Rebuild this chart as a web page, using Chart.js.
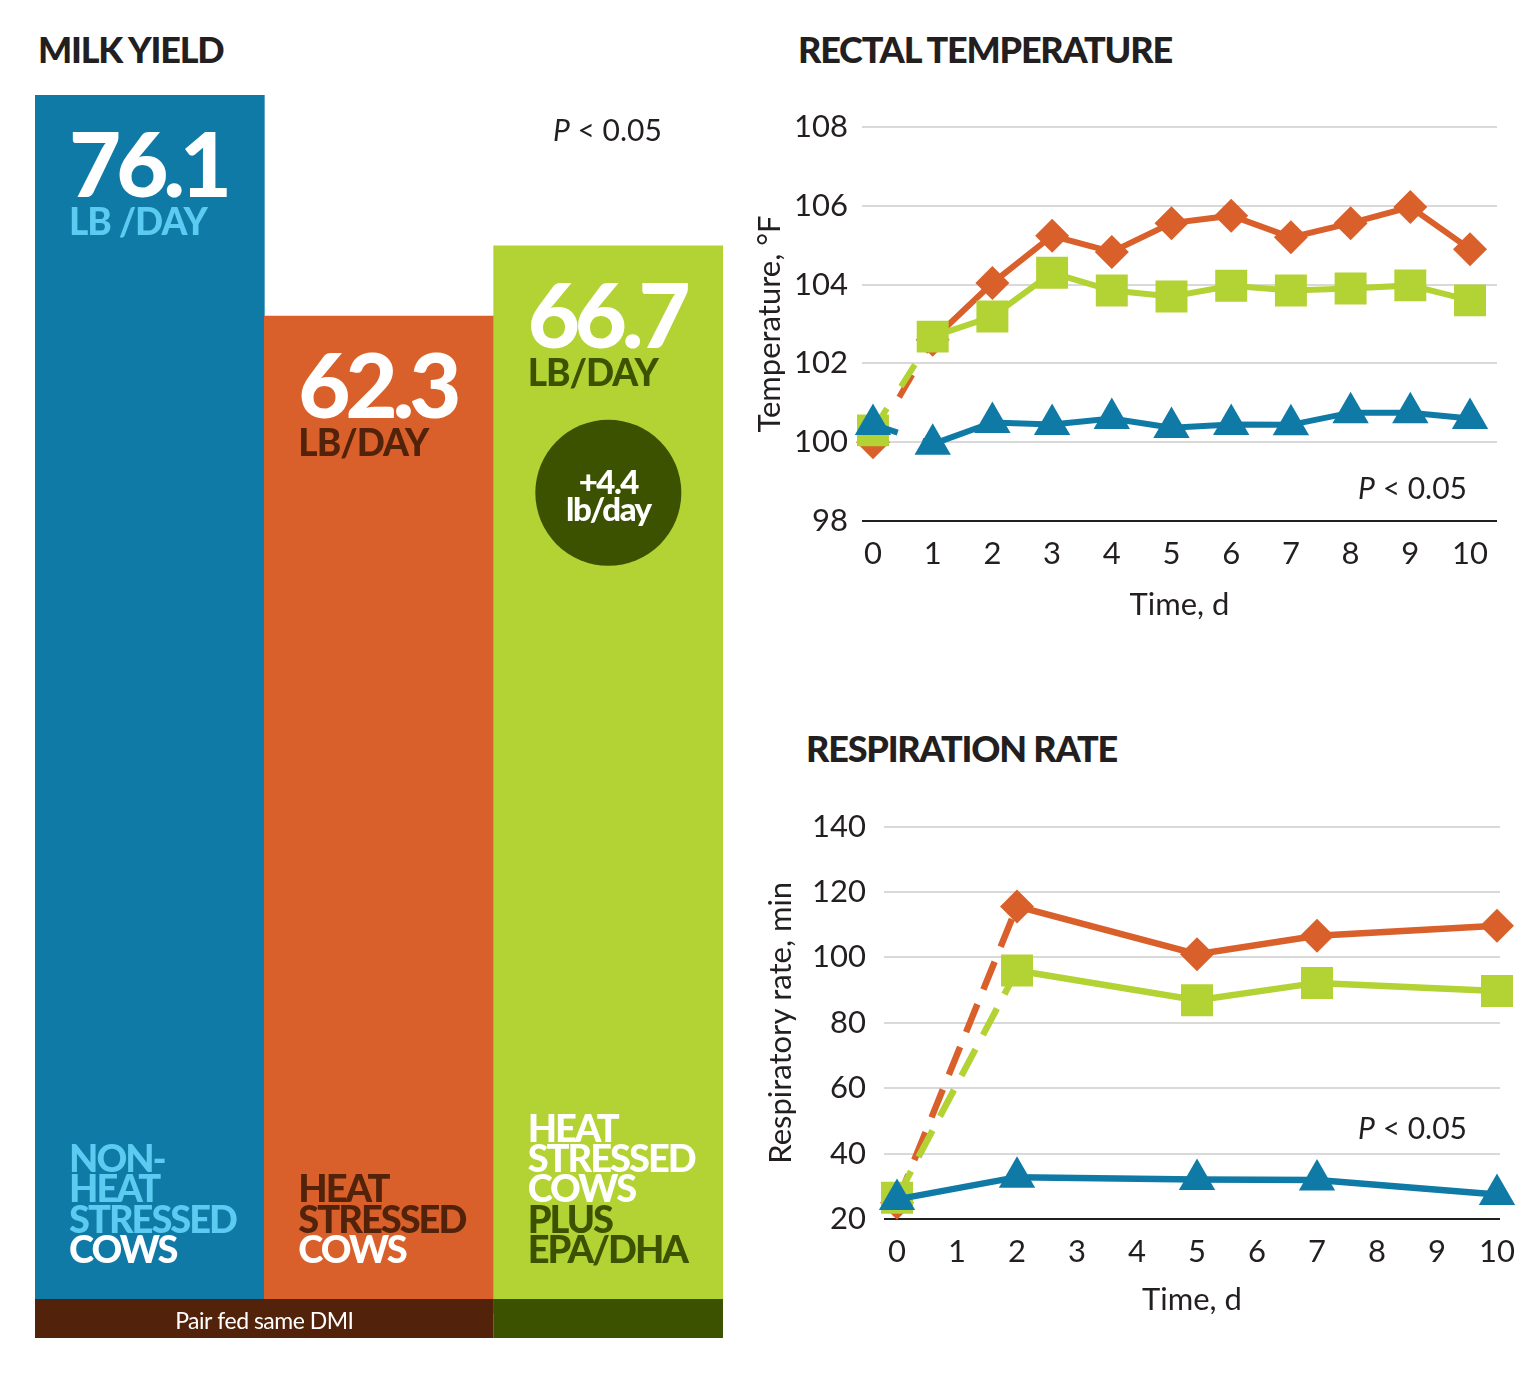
<!DOCTYPE html>
<html lang="en">
<head>
<meta charset="UTF-8">
<title>Milk yield, rectal temperature and respiration rate</title>
<script src="https://cdn.jsdelivr.net/npm/chart.js@4.4.0/dist/chart.umd.min.js"></script>
<style>
  body { margin: 0; background: #fff; font-family: Lato, sans-serif; }
  .page { position: relative; width: 1536px; height: 1375px; overflow: hidden; }
  .title { position: absolute; font-weight: 900; font-size: 36px; letter-spacing: -1.2px; color: #231f20; line-height: 1; white-space: nowrap; }
  canvas { position: absolute; }
</style>
</head>
<body>
<div class="page">
  <div class="title" style="left:38px; top:31px">MILK YIELD</div>
  <div class="title" style="left:798px; top:31px">RECTAL TEMPERATURE</div>
  <div class="title" style="left:806px; top:730px">RESPIRATION RATE</div>
  <canvas id="milkChart" width="688" height="1375" style="left:35px; top:0; width:688px; height:1375px"></canvas>
  <canvas id="tempChart" width="796" height="540" style="left:740px; top:90px; width:796px; height:540px"></canvas>
  <canvas id="respChart" width="796" height="540" style="left:740px; top:790px; width:796px; height:540px"></canvas>
</div>

<script>
// milk yield, lb/day
const groups = ['Non-heat stressed cows', 'Heat stressed cows', 'Heat stressed cows plus EPA/DHA'];
const milkYield = [76.1, 62.3, 66.7];
const groupLines = [
  ['NON-', 'HEAT', 'STRESSED', 'COWS'],
  ['HEAT', 'STRESSED', 'COWS'],
  ['HEAT', 'STRESSED', 'COWS', 'PLUS', 'EPA/DHA']
];

// rectal temperature, °F
const tempDays = [0, 1, 2, 3, 4, 5, 6, 7, 8, 9, 10];
const tempNonHeat = [100.45, 99.95, 100.5, 100.45, 100.6, 100.37, 100.45, 100.44, 100.75, 100.75, 100.6];
const tempHeat = [100.0, 102.6, 104.04, 105.24, 104.83, 105.56, 105.75, 105.2, 105.56, 105.97, 104.9];
const tempHeatEpa = [100.3, 102.68, 103.19, 104.3, 103.85, 103.7, 103.97, 103.85, 103.9, 103.98, 103.6];
const tempTicks = [98, 100, 102, 104, 106, 108];

// respiration rate, breaths/min
const respDays = [0, 2, 5, 7, 10];
const respNonHeat = [26, 32.8, 32.1, 31.9, 27.5];
const respHeat = [25, 115.6, 101, 106.6, 109.7];
const respHeatEpa = [26.5, 96, 86.9, 92.2, 89.7];
const respTicks = [20, 40, 60, 80, 100, 120, 140];

const dayTicks = [0, 1, 2, 3, 4, 5, 6, 7, 8, 9, 10];

const ink = '#231f20';
const blue = '#107aa6', orange = '#d9602a', green = '#b3d234';
const lightBlue = '#5ccbf1', brown = '#52230a', olive = '#3d5200';

function drawPNote(ctx, x, y, alignRight) {
  ctx.save();
  ctx.fillStyle = ink;
  ctx.textBaseline = 'alphabetic';
  ctx.textAlign = 'left';
  ctx.font = 'italic 30px Lato';
  const wP = ctx.measureText('P').width;
  ctx.font = '30px Lato';
  const rest = ' < 0.05';
  const wR = ctx.measureText(rest).width;
  const x0 = alignRight ? x - wP - wR : x;
  ctx.font = 'italic 30px Lato';
  ctx.fillText('P', x0, y);
  ctx.font = '30px Lato';
  ctx.fillText(rest, x0 + wP, y);
  ctx.restore();
}

function txt(ctx, s, x, y, font, color, spacing) {
  ctx.font = font;
  ctx.fillStyle = color;
  ctx.letterSpacing = spacing || '0px';
  ctx.fillText(s, x, y);
}

// labels, footer strip and difference badge for the milk bars
const milkLabels = {
  id: 'milkLabels',
  afterDatasetsDraw(chart) {
    const ctx = chart.ctx;
    const bars = chart.getDatasetMeta(0).data;
    const base = chart.scales.y.getPixelForValue(0);
    const left = bars.map(b => b.x - b.width / 2);
    const right = bars.map(b => b.x + b.width / 2);
    ctx.save();
    ctx.textBaseline = 'alphabetic';
    ctx.textAlign = 'left';

    // footer strip
    ctx.fillStyle = brown;
    ctx.fillRect(left[0], base - 14, right[1] - left[0], 39);
    ctx.fillStyle = olive;
    ctx.fillRect(left[2], base - 14, right[2] - left[2], 39);
    ctx.textAlign = 'center';
    txt(ctx, 'Pair fed same DMI', right[0], base + 16, '23px Lato', '#fff', '-0.5px');
    ctx.textAlign = 'left';

    const unitColors = [lightBlue, brown, olive];
    const lineColors = [
      [lightBlue, lightBlue, lightBlue, '#fff'],
      [brown, brown, '#fff'],
      ['#fff', '#fff', '#fff', olive, olive]
    ];
    bars.forEach((b, i) => {
      const x = left[i] + 34;
      txt(ctx, milkYield[i].toFixed(1), x, b.y + 102, '900 90px Lato', '#fff', '-5px');
      txt(ctx, i === 0 ? 'LB /DAY' : 'LB/DAY', x, b.y + 140, '900 37px Lato', unitColors[i], '-1px');
      const lines = groupLines[i];
      lines.forEach((s, j) => {
        const y = base - 50 - (lines.length - 1 - j) * 30.3;
        txt(ctx, s, x, y, '900 38px Lato', lineColors[i][j], '-2px');
      });
    });

    // +4.4 badge on the EPA/DHA bar
    const g = bars[2];
    const cy = g.y + 247;
    ctx.fillStyle = olive;
    ctx.beginPath();
    ctx.arc(g.x, cy, 73, 0, Math.PI * 2);
    ctx.fill();
    ctx.textAlign = 'center';
    const diff = milkYield[2] - milkYield[1];
    txt(ctx, '+' + diff.toFixed(1), g.x, cy + 1, '900 33px Lato', '#fff', '-1.5px');
    txt(ctx, 'lb/day', g.x, cy + 28, '900 33px Lato', '#fff', '-1.5px');
    ctx.restore();

    drawPNote(ctx, 518, 141, false);
  }
};

new Chart(document.getElementById('milkChart'), {
  type: 'bar',
  data: {
    labels: groups,
    datasets: [{
      data: milkYield,
      backgroundColor: [blue, orange, green],
      borderWidth: 0,
      barPercentage: 1,
      categoryPercentage: 1
    }]
  },
  options: {
    responsive: false,
    animation: false,
    layout: { padding: 0 },
    plugins: { legend: { display: false }, tooltip: { enabled: false } },
    scales: {
      x: { display: false },
      y: { display: false, min: -3.875, max: 82.0625 }
    }
  },
  plugins: [milkLabels]
});

function pNote(dx, dy) {
  return {
    id: 'pNote',
    afterDraw(chart) {
      const a = chart.chartArea;
      drawPNote(chart.ctx, a.right - dx, a.bottom - dy, true);
    }
  };
}

function makeLineChart(id, days, nonHeat, heat, heatEpa, yTicks, yTitle, o) {
  const ds = (data, color, style, radius, dashed) => ({
    data: days.map((d, i) => ({ x: d, y: data[i] })),
    borderColor: color,
    backgroundColor: color,
    borderWidth: o.lineWidth,
    pointStyle: style,
    pointRadius: radius,
    pointHoverRadius: radius,
    pointBorderWidth: 0,
    tension: 0,
    clip: false,
    segment: { borderDash: c => dashed && c.p0DataIndex === 0 ? o.dash : undefined }
  });
  const font = { family: 'Lato', size: 31 };
  return new Chart(document.getElementById(id), {
    type: 'line',
    data: {
      datasets: [
        ds(nonHeat, blue, 'triangle', 21, o.dashBlue),
        ds(heatEpa, green, 'rect', 22.6, true),
        ds(heat, orange, 'rectRot', 17, true)
      ]
    },
    options: {
      responsive: false,
      animation: false,
      layout: { padding: { top: o.top, right: o.right, left: 0, bottom: 0 } },
      plugins: { legend: { display: false }, tooltip: { enabled: false } },
      scales: {
        x: {
          type: 'linear',
          min: o.xMin,
          max: o.xMax,
          afterBuildTicks: s => { s.ticks = dayTicks.map(v => ({ value: v })); },
          afterFit: s => { s.height = o.xHeight; s.paddingLeft = 0; s.paddingRight = 0; },
          grid: { display: false },
          border: { display: false },
          ticks: { color: ink, font: font, padding: o.xTickPad, maxRotation: 0, autoSkip: false },
          title: { display: true, text: 'Time, d', color: ink, font: font, padding: { top: 0, bottom: o.xTitlePad } }
        },
        y: {
          min: yTicks[0],
          max: yTicks[yTicks.length - 1],
          afterBuildTicks: s => { s.ticks = yTicks.map(v => ({ value: v })); },
          afterFit: s => { s.width = o.yWidth; },
          grid: {
            color: c => c.tick && c.tick.value === yTicks[0] ? ink : '#d9d9d9',
            lineWidth: 2,
            drawTicks: false
          },
          border: { display: false },
          ticks: { color: ink, font: font, padding: o.yTickPad },
          title: { display: true, text: yTitle, color: ink, font: font, padding: { top: o.yTitlePad, bottom: 0 } }
        }
      }
    },
    plugins: [pNote(o.noteDx, o.noteDy)]
  });
}

makeLineChart('tempChart', tempDays, tempNonHeat, tempHeat, tempHeatEpa, tempTicks, 'Temperature, °F', {
  lineWidth: 6, dash: [26, 26], dashBlue: true,
  top: 37, right: 39, xHeight: 109, yWidth: 122,
  xMin: -0.184, xMax: 10.452,
  xTickPad: 6, xTitlePad: 6, yTickPad: 14, yTitlePad: 11,
  noteDx: 30, noteDy: 22
});

makeLineChart('respChart', respDays, respNonHeat, respHeat, respHeatEpa, respTicks, 'Respiratory rate, min', {
  lineWidth: 6.5, dash: [30, 16], dashBlue: false,
  top: 34, right: 36, xHeight: 111, yWidth: 144,
  xMin: -0.217, xMax: 10.05,
  xTickPad: 6, xTitlePad: 11, yTickPad: 18, yTitlePad: 22,
  noteDx: 33, noteDy: 80
});
</script>
</body>
</html>
